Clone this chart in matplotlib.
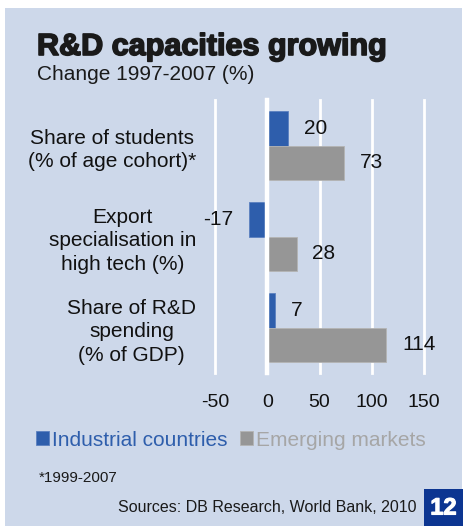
import numpy as np
import matplotlib
matplotlib.use("Agg")
import matplotlib.pyplot as plt
import matplotlib.patheffects as pe
from matplotlib.patches import Rectangle

plt.rcParams['font.family'] = ['Liberation Sans', 'DejaVu Sans']

# data ---------------------------------------------------------------
categories = ["Share of students\n(% of age cohort)*",
              "Export\nspecialisation in\nhigh tech (%)",
              "Share of R&D\nspending\n(% of GDP)"]
industrial = [20, -17, 7]
emerging = [73, 28, 114]
xticks = [-50, 0, 50, 100, 150]

bg = "#cdd8ea"
blue = "#2e5eac"
grey = "#969696"

fig = plt.figure(figsize=(4.63, 5.26), dpi=100)
fig.patch.set_facecolor("white")
fig.patches.append(Rectangle((5 / 463, 0), 457 / 463, 518 / 526,
                             transform=fig.transFigure, facecolor=bg,
                             edgecolor="none", zorder=-5))

ax = fig.add_axes([215 / 463, 1 - 373 / 526, 209 / 463, 273 / 526])
ax.set_facecolor(bg)

y = np.arange(len(categories))
h = 0.38
ax.barh(y - h / 2, industrial, height=h, color=blue, edgecolor="#5b80c0",
        linewidth=0.6, zorder=2, label="Industrial countries")
ax.barh(y + h / 2, emerging, height=h, color=grey, edgecolor="#b4b4b4",
        linewidth=0.6, zorder=2, label="Emerging markets")

# white gridlines, zero line sits on top of the bars
for xt in xticks:
    if xt == 0:
        ax.axvline(xt, color="white", lw=3.2, zorder=3, clip_on=False)
    else:
        ax.axvline(xt, color="white", lw=2, zorder=1, clip_on=False)

# value labels
for vals, off in ((industrial, -h / 2), (emerging, h / 2)):
    for yi, v in zip(y, vals):
        ax.annotate(str(v), (v, yi + off),
                    xytext=(11.5 if v >= 0 else -11.5, 0),
                    textcoords="offset points",
                    ha="left" if v >= 0 else "right", va="center",
                    fontsize=15, color="#111111")

ax.set_xlim(-50, 150)
ax.set_ylim(len(categories) - 0.5, -0.5)
ax.set_xticks(xticks)
ax.set_xticklabels([str(t) for t in xticks], fontsize=14, color="#111111")
ax.set_yticks(y)
ax.set_yticklabels(categories, fontsize=15, color="#111111",
                   multialignment="center", linespacing=1.3)
ax.tick_params(axis="both", length=0)
ax.tick_params(axis="x", pad=15)
ax.tick_params(axis="y", pad=13.5)
for s in ax.spines.values():
    s.set_visible(False)

# titles
fig.text(37 / 463, 1 - 55 / 526, "R&D capacities growing", fontsize=22,
         fontweight="bold", color="#1a1a1a", va="baseline",
         path_effects=[pe.withStroke(linewidth=1.2, foreground="#1a1a1a")])
fig.text(37 / 463, 1 - 80 / 526, "Change 1997-2007 (%)", fontsize=15,
         color="#1a1a1a", va="baseline")

leg = fig.legend(loc="center left", bbox_to_anchor=(36 / 463, 1 - 440 / 526),
                 ncol=2, frameon=False, fontsize=15, borderpad=0,
                 borderaxespad=0, handlelength=0.62, handleheight=0.62,
                 handletextpad=0.15, columnspacing=0.6,
                 labelcolor=[blue, "#a6a6a6"])

fig.text(39 / 463, 1 - 478 / 526, "*1999-2007", fontsize=11,
         color="#1a1a1a", va="center")
fig.text(417 / 463, 1 - 508 / 526, "Sources: DB Research, World Bank, 2010",
         fontsize=11.5, color="#1a1a1a", va="center", ha="right")

fig.patches.append(Rectangle((424 / 463, 0), 39 / 463, 37 / 526,
                             transform=fig.transFigure, facecolor="#0c3591",
                             edgecolor="none", zorder=1))
fig.text(443.5 / 463, 1 - 508 / 526, "12", fontsize=17, fontweight="bold",
         color="white", ha="center", va="center",
         path_effects=[pe.withStroke(linewidth=0.8, foreground="white")])

fig.savefig("out.png", dpi=100, facecolor=fig.get_facecolor())
